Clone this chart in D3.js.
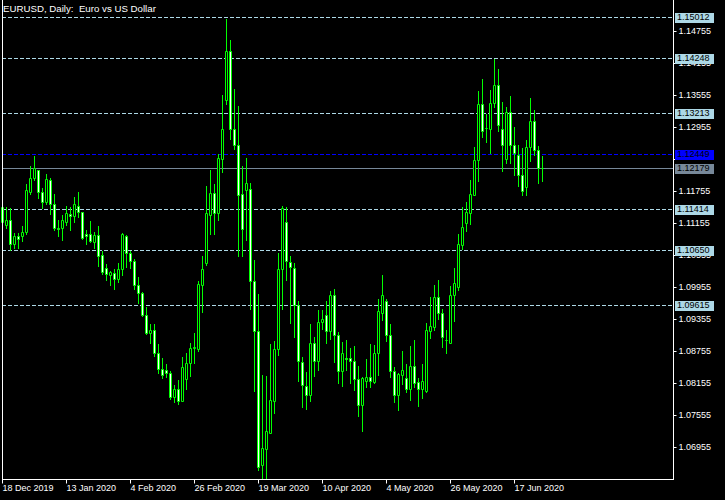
<!DOCTYPE html>
<html><head><meta charset="utf-8">
<script src="https://cdn.jsdelivr.net/npm/d3@7"></script>
<style>html,body{margin:0;padding:0;background:#000;overflow:hidden}</style>
</head><body><svg id="c" width="725" height="500"></svg>
<script>
const title = "EURUSD, Daily:  Euro vs US Dollar";
const dateLabels = ["18 Dec 2019","13 Jan 2020","4 Feb 2020","26 Feb 2020","19 Mar 2020","10 Apr 2020","4 May 2020","26 May 2020","17 Jun 2020"];
const dateLabelBars = [0,16,32,48,64,80,96,112,128];
const priceTicks = [1.14755,1.14155,1.13555,1.12955,1.12355,1.11755,1.11155,1.10555,1.09955,1.09355,1.08755,1.08155,1.07555,1.06955];
const levels = [1.15012,1.14248,1.13213,1.11414,1.10650,1.09615];
const blueLevel = 1.12449;
const bidPrice = 1.12179;

const opens = [
1.11174,1.11117,1.11211,1.10761,1.10911,1.10911,1.10986,1.11736,1.11999,1.12149,
1.11736,1.11549,1.11961,1.11511,1.11061,1.11061,1.11174,1.11324,1.11286,1.11474,
1.11361,1.10949,1.10949,1.10799,1.10930,1.10555,1.10311,1.10180,1.10217,1.10105,
1.10292,1.10911,1.10592,1.10442,1.09992,1.09842,1.09430,1.09092,1.09149,1.08717,
1.08417,1.08399,1.08342,1.07892,1.08042,1.07817,1.08230,1.08530,1.08811,1.08792,
1.09992,1.10405,1.11305,1.11717,1.11342,1.12355,1.13461,1.14380,1.12917,1.12617,
1.11699,1.11774,1.11792,1.10067,1.09130,1.06617,1.06917,1.07217,1.07817,1.08792,
1.10292,1.11174,1.10424,1.10311,1.09617,1.08549,1.08099,1.07930,1.08905,1.08567,
1.09299,1.09430,1.09130,1.09805,1.09055,1.08380,1.08624,1.08624,1.08567,1.08230,
1.07742,1.08192,1.08267,1.08174,1.08717,1.09467,1.09692,1.09055,1.08380,1.07930,
1.08305,1.08249,1.08042,1.08474,1.08174,1.08042,1.08005,1.09130,1.09205,1.09767,
1.09467,1.08961,1.08905,1.09805,1.09955,1.10742,1.11155,1.11342,1.11680,1.12336,
1.13386,1.12936,1.12917,1.13405,1.13742,1.12917,1.12355,1.13236,1.12617,1.12430,
1.12055,1.11830,1.12580,1.13067,1.12524,1.12186];
const highs = [
1.11492,1.11455,1.11436,1.10967,1.10967,1.11099,1.11886,1.12224,1.12411,1.12149,
1.11811,1.12074,1.11999,1.11699,1.11211,1.11305,1.11474,1.11455,1.11642,1.11736,
1.11361,1.11024,1.11192,1.10986,1.11099,1.10630,1.10386,1.10255,1.10292,1.10405,
1.10967,1.10930,1.10630,1.10480,1.10142,1.09861,1.09580,1.09261,1.09261,1.08886,
1.08624,1.08511,1.08380,1.08117,1.08211,1.08642,1.08717,1.08905,1.09092,1.10067,
1.10536,1.11849,1.12149,1.11886,1.12449,1.13555,1.14980,1.14586,1.13667,1.13349,
1.12224,1.12374,1.11905,1.10461,1.09824,1.08305,1.08286,1.08886,1.08942,1.10592,
1.11474,1.11455,1.10536,1.10405,1.09692,1.08642,1.08361,1.09261,1.09017,1.09524,
1.09524,1.09692,1.09880,1.09917,1.09111,1.08924,1.08961,1.08811,1.08849,1.08474,
1.08267,1.08605,1.08886,1.08868,1.09730,1.10180,1.09730,1.09261,1.08455,1.08342,
1.08755,1.08511,1.08849,1.08961,1.08249,1.08511,1.09280,1.09767,1.09992,1.10086,
1.09542,1.09149,1.09974,1.10311,1.10949,1.11455,1.11549,1.11961,1.12580,1.13630,
1.13855,1.13199,1.13649,1.14230,1.14042,1.13424,1.13330,1.13536,1.12955,1.12617,
1.12561,1.12711,1.13499,1.13274,1.12599,1.12411];
const lows = [
1.11117,1.11061,1.10649,1.10686,1.10686,1.10817,1.10949,1.11699,1.11961,1.11624,
1.11436,1.11511,1.11324,1.11024,1.10911,1.10836,1.11117,1.11024,1.11174,1.11267,
1.10855,1.10761,1.10799,1.10686,1.10349,1.10199,1.10086,1.09992,1.09917,1.10049,
1.10180,1.10330,1.10311,1.09917,1.09655,1.09411,1.09074,1.08905,1.08661,1.08342,
1.08249,1.08267,1.07855,1.07799,1.07761,1.07817,1.08042,1.08286,1.08530,1.08755,
1.09486,1.10367,1.10949,1.10949,1.11211,1.12111,1.13386,1.12730,1.12542,1.10536,
1.10536,1.10836,1.09542,1.08005,1.06524,1.06355,1.06355,1.07217,1.07592,1.08680,
1.09542,1.10086,1.09280,1.09017,1.08192,1.07705,1.07667,1.07817,1.08286,1.08399,
1.09167,1.08905,1.08980,1.08549,1.08155,1.08099,1.08399,1.08155,1.08024,1.07536,
1.07255,1.08080,1.08080,1.08155,1.08305,1.09336,1.08942,1.08267,1.07799,1.07649,
1.08136,1.07986,1.07836,1.08080,1.07724,1.07874,1.07986,1.08999,1.09149,1.09355,
1.08830,1.08717,1.08905,1.09317,1.09899,1.10667,1.11005,1.11136,1.11680,1.11942,
1.12767,1.12674,1.12467,1.13330,1.12880,1.12130,1.12280,1.12280,1.12055,1.11849,
1.11680,1.11680,1.12317,1.12430,1.11905,1.11942];
const closes = [
1.11455,1.11211,1.10761,1.10911,1.10855,1.10986,1.11774,1.11999,1.12186,1.11736,
1.11549,1.11980,1.11511,1.11061,1.11042,1.11211,1.11342,1.11286,1.11511,1.11361,
1.10874,1.10911,1.10817,1.10930,1.10536,1.10236,1.10199,1.10236,1.10105,1.10292,
1.10949,1.10592,1.10442,1.09992,1.09842,1.09430,1.09092,1.09149,1.08717,1.08417,
1.08305,1.08342,1.07892,1.08042,1.07817,1.08455,1.08530,1.08811,1.08830,1.10011,
1.10292,1.11342,1.11717,1.11342,1.12374,1.12917,1.14380,1.12917,1.12617,1.11680,
1.11042,1.11905,1.10067,1.09130,1.06580,1.06936,1.07255,1.07836,1.08792,1.10292,
1.11436,1.10442,1.10330,1.09617,1.08567,1.08117,1.07930,1.08905,1.08567,1.09299,
1.09355,1.09130,1.09805,1.09055,1.08380,1.08717,1.08605,1.08567,1.08230,1.07742,
1.08249,1.08267,1.08192,1.08717,1.09505,1.09805,1.09055,1.08380,1.07930,1.08324,
1.08399,1.08042,1.08474,1.08155,1.08042,1.08192,1.09149,1.09224,1.09767,1.09467,
1.09017,1.08955,1.09805,1.10030,1.10761,1.11080,1.11361,1.11699,1.12336,1.13386,
1.12880,1.12930,1.13405,1.13742,1.12992,1.12617,1.13236,1.12617,1.12467,1.12055,
1.11755,1.12580,1.13067,1.12524,1.12186,1.12179];

const W = 725, H = 500;
const L = 2, R = 673, B = 479;
const FONT = "'Liberation Sans', Arial, sans-serif";
const GREEN = "#00ff00";
const svg = d3.select("#c");
svg.append("rect").attr("width", W).attr("height", H).attr("fill", "#000");

const x = d3.scaleLinear().domain([0, 167.75]).range([L, R]);
const y = d3.scaleLinear().domain([1.06955, 1.14755]).range([447, 31]);
const py = v => Math.round(y(v));

// horizontal lines (behind candles)
const gl = svg.append("g");
gl.selectAll("line.lvl").data(levels).join("line").attr("class", "lvl")
  .attr("x1", L).attr("x2", R).attr("y1", d => py(d) + 0.5).attr("y2", d => py(d) + 0.5)
  .attr("stroke", "#add8e6").attr("stroke-dasharray", "4,2");
gl.append("line").attr("x1", L).attr("x2", R).attr("y1", py(blueLevel) + 0.5).attr("y2", py(blueLevel) + 0.5)
  .attr("stroke", "#0000ff").attr("stroke-dasharray", "4,2");
gl.append("line").attr("x1", L).attr("x2", R).attr("y1", py(bidPrice) + 0.5).attr("y2", py(bidPrice) + 0.5)
  .attr("stroke", "#778899");

// candles
const data = opens.map((o, i) => ({ i, o, h: highs[i], l: lows[i], c: closes[i] }));
const gc = svg.append("g");
gc.selectAll("rect.wick").data(data).join("rect").attr("class", "wick")
  .attr("x", d => Math.round(x(d.i))).attr("y", d => py(d.h))
  .attr("width", 1).attr("height", d => Math.max(1, py(d.l) - py(d.h) + 1))
  .attr("fill", GREEN);
gc.selectAll("path.body").data(data).join("path").attr("class", "body")
  .attr("d", d => {
    const cx = Math.round(x(d.i));
    const top = py(Math.max(d.o, d.c)), bot = py(Math.min(d.o, d.c));
    return `M${cx - 0.5},${top + 0.5}h2v${bot - top}h-2z`;
  })
  .attr("fill", d => d.c > d.o ? "#000" : "#fff")
  .attr("stroke", GREEN).attr("stroke-width", 1);

// frame
svg.append("line").attr("x1", L + 0.5).attr("x2", L + 0.5).attr("y1", 0).attr("y2", B + 1).attr("stroke", "#fff");
svg.append("line").attr("x1", R + 0.5).attr("x2", R + 0.5).attr("y1", 0).attr("y2", B + 1).attr("stroke", "#fff");
svg.append("line").attr("x1", L).attr("x2", R + 1).attr("y1", B + 0.5).attr("y2", B + 0.5).attr("stroke", "#fff");

// right price axis (labels hidden where the current-price boxes sit, as in the terminal)
const hidden = t => Math.abs(py(t) - py(blueLevel)) < 9 || Math.abs(py(t) - py(bidPrice)) < 9;
const ax = svg.append("g").attr("transform", `translate(${R + 0.5},0)`)
  .call(d3.axisRight(y).tickValues(priceTicks).tickSize(3).tickPadding(2)
    .tickFormat(t => hidden(t) ? "" : d3.format(".5f")(t)));
ax.select(".domain").remove();
ax.selectAll("line").attr("stroke", "#fff");
ax.selectAll("text").attr("fill", "#fff").style("font-family", FONT).style("font-size", "9px");

// bottom date axis
const bx = svg.append("g").attr("transform", `translate(0,${B + 0.5})`)
  .call(d3.axisBottom(x).tickValues(dateLabelBars).tickSize(4).tickPadding(1)
    .tickFormat((d, k) => dateLabels[k]));
bx.select(".domain").remove();
bx.selectAll("line").attr("stroke", "#fff");
bx.selectAll("text").attr("fill", "#fff").attr("text-anchor", "start").attr("x", 0)
  .style("font-family", FONT).style("font-size", "9px");

// price labels for lines
function priceBox(v, fill) {
  const yy = py(v);
  svg.append("rect").attr("x", R + 2).attr("y", yy - 4).attr("width", 39).attr("height", 10).attr("fill", fill);
  svg.append("text").attr("x", R + 4).attr("y", yy + 0.5).attr("dy", "0.32em")
    .attr("fill", "#000").style("font-family", FONT).style("font-size", "9px").text(d3.format(".5f")(v));
}
levels.forEach(v => priceBox(v, "#add8e6"));
priceBox(blueLevel, "#0000ff");
priceBox(bidPrice, "#778899");

// title
svg.append("text").attr("x", 3).attr("y", 12).attr("fill", "#fff")
  .style("font-family", FONT).style("font-size", "9.7px").style("white-space", "pre")
  .text(title);
</script>
</body></html>
